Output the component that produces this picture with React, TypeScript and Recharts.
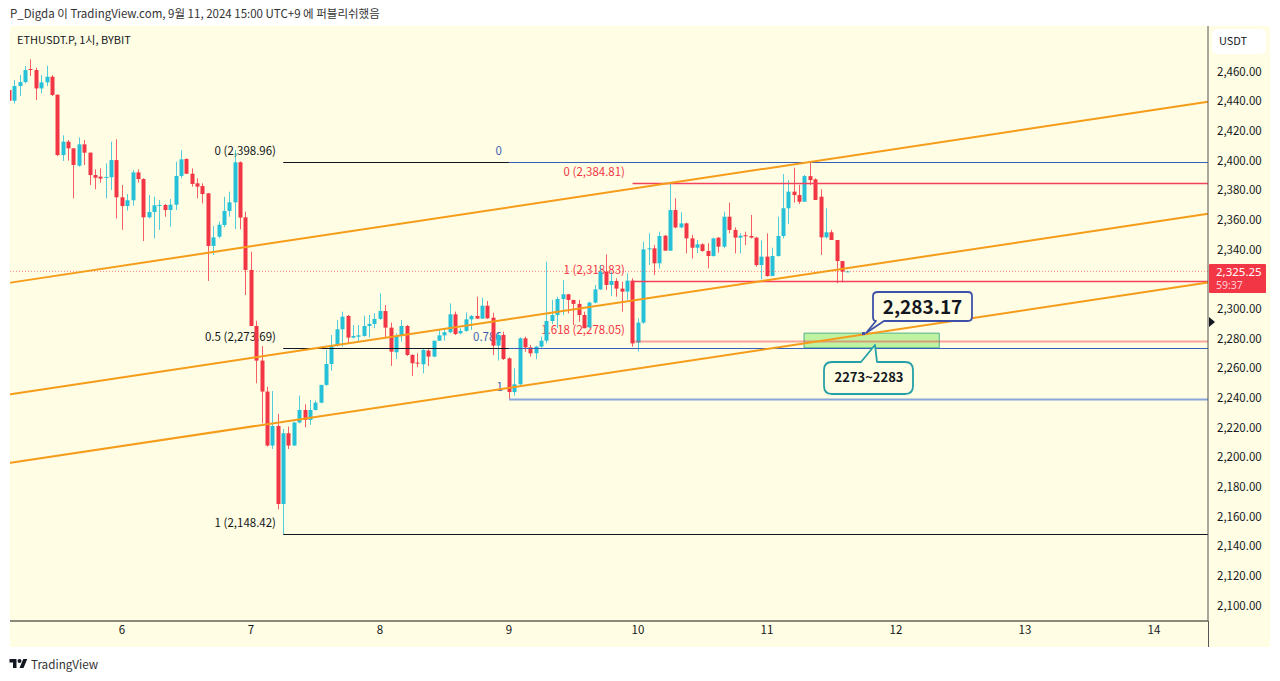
import { Bar, ComposedChart, ReferenceArea, ReferenceLine, XAxis, YAxis } from 'recharts';

// hourly candles, oldest first
const opens = [
  2447.5, 2440.3, 2450.2, 2452.9, 2461.7, 2461.0, 2448.6, 2452.7, 2456.5, 2444.4,
  2403.7, 2412.7, 2408.2, 2396.5, 2410.9, 2405.3, 2390.2, 2389.1, 2388.7, 2388.7,
  2400.3, 2375.2, 2369.3, 2373.2, 2392.0, 2387.5, 2361.7, 2365.3, 2369.8, 2370.0,
  2366.6, 2370.2, 2389.6, 2401.0, 2391.1, 2384.6, 2382.8, 2377.9, 2342.4, 2348.6,
  2356.5, 2366.0, 2371.8, 2398.8, 2361.7, 2326.2, 2288.4, 2265.1, 2244.2, 2207.8,
  2221.0, 2168.4, 2216.1, 2207.8, 2223.3, 2231.8, 2225.1, 2231.8, 2236.7, 2248.7,
  2262.8, 2275.6, 2286.2, 2295.2, 2280.6, 2281.2, 2281.7, 2288.4, 2289.8, 2293.2,
  2298.5, 2287.3, 2270.7, 2281.7, 2288.4, 2268.9, 2263.7, 2262.6, 2271.8, 2267.8,
  2278.5, 2282.1, 2284.2, 2296.3, 2283.5, 2285.1, 2292.9, 2295.2, 2293.4, 2302.1,
  2294.0, 2275.2, 2282.4, 2266.6, 2243.9, 2249.1, 2280.1, 2274.0, 2270.0, 2274.5,
  2278.5, 2291.8, 2295.8, 2306.6, 2309.8, 2306.0, 2303.3, 2295.8, 2287.5, 2304.2,
  2313.1, 2325.1, 2316.1, 2318.8, 2313.6, 2311.6, 2319.0, 2277.2, 2290.7, 2340.1,
  2340.8, 2330.7, 2349.3, 2339.2, 2366.6, 2354.9, 2357.6, 2347.5, 2341.2, 2343.5,
  2339.0, 2335.6, 2348.0, 2341.9, 2362.1, 2353.2, 2348.0, 2349.6, 2349.1, 2348.0,
  2329.5, 2335.2, 2322.1, 2335.6, 2349.1, 2367.8, 2379.0, 2376.7, 2372.2, 2389.5,
  2387.3, 2375.6, 2348.2, 2351.6, 2346.4, 2332.2, 2325.25,
];
const closes = [
  2440.3, 2450.2, 2452.9, 2461.0, 2461.2, 2448.6, 2452.7, 2456.5, 2444.2, 2403.7,
  2412.7, 2408.2, 2397.0, 2410.9, 2405.3, 2390.2, 2388.4, 2387.8, 2388.9, 2400.3,
  2375.2, 2369.3, 2373.2, 2392.0, 2387.5, 2361.7, 2365.3, 2369.8, 2370.0, 2366.6,
  2370.2, 2389.6, 2400.8, 2391.1, 2384.2, 2382.4, 2377.4, 2342.4, 2348.2, 2356.7,
  2366.0, 2371.8, 2398.8, 2361.5, 2326.2, 2288.4, 2265.1, 2244.2, 2207.8, 2221.0,
  2168.4, 2216.1, 2207.8, 2223.3, 2231.8, 2225.1, 2231.8, 2236.7, 2248.7, 2262.8,
  2275.6, 2286.2, 2294.7, 2280.6, 2281.7, 2282.1, 2288.4, 2289.8, 2293.2, 2298.5,
  2287.3, 2271.1, 2281.7, 2288.4, 2268.9, 2263.3, 2263.3, 2272.3, 2267.8, 2278.5,
  2282.1, 2284.2, 2296.3, 2283.0, 2285.1, 2292.9, 2295.2, 2293.4, 2302.1, 2293.6,
  2275.2, 2282.4, 2266.2, 2243.9, 2249.1, 2280.1, 2274.0, 2270.0, 2274.5, 2278.5,
  2291.8, 2295.8, 2306.6, 2309.8, 2306.0, 2303.3, 2295.8, 2286.9, 2304.2, 2313.1,
  2325.1, 2316.1, 2318.8, 2313.6, 2311.6, 2319.0, 2276.7, 2290.7, 2340.1, 2340.8,
  2330.7, 2349.1, 2339.2, 2366.6, 2354.9, 2357.6, 2347.5, 2341.2, 2343.5, 2339.0,
  2335.6, 2347.5, 2341.9, 2362.1, 2353.2, 2348.0, 2349.3, 2349.1, 2348.0, 2329.5,
  2335.2, 2322.1, 2335.6, 2349.1, 2367.8, 2379.0, 2376.7, 2372.2, 2389.5, 2386.8,
  2373.4, 2348.2, 2351.6, 2346.4, 2332.2, 2325.1, 2325.25,
];
const highs = [
  2454.3, 2454.3, 2457.6, 2463.7, 2468.2, 2462.6, 2457.6, 2463.9, 2457.6, 2444.4,
  2417.0, 2413.8, 2408.2, 2415.6, 2413.8, 2405.3, 2394.0, 2394.7, 2398.1, 2412.7,
  2414.3, 2383.5, 2377.4, 2393.6, 2394.0, 2388.0, 2376.7, 2375.6, 2373.4, 2370.7,
  2374.1, 2399.2, 2407.1, 2401.5, 2394.7, 2388.0, 2384.6, 2377.9, 2355.8, 2358.8,
  2375.6, 2379.0, 2407.1, 2399.4, 2365.5, 2338.5, 2292.0, 2274.9, 2247.5, 2244.6,
  2229.1, 2219.0, 2220.6, 2223.9, 2241.5, 2235.6, 2238.5, 2238.1, 2248.7, 2272.3,
  2282.4, 2292.5, 2298.1, 2295.8, 2289.1, 2289.1, 2295.4, 2295.8, 2297.0, 2310.4,
  2302.6, 2290.7, 2283.5, 2292.5, 2289.1, 2269.3, 2270.0, 2272.7, 2272.7, 2278.5,
  2286.2, 2285.7, 2303.7, 2298.1, 2286.9, 2297.6, 2295.8, 2308.2, 2307.5, 2305.3,
  2297.4, 2283.9, 2284.6, 2267.3, 2259.9, 2280.8, 2281.2, 2275.6, 2275.0, 2281.2,
  2331.8, 2306.0, 2308.2, 2319.4, 2310.0, 2306.0, 2306.0, 2298.1, 2304.8, 2316.1,
  2329.5, 2336.7, 2325.1, 2320.6, 2318.3, 2323.9, 2320.6, 2293.6, 2345.3, 2350.9,
  2343.0, 2352.0, 2349.8, 2384.6, 2374.5, 2365.1, 2358.1, 2349.8, 2346.4, 2344.2,
  2344.2, 2348.0, 2348.2, 2365.5, 2371.6, 2354.9, 2350.9, 2352.0, 2363.3, 2348.6,
  2346.0, 2350.9, 2341.2, 2362.1, 2390.9, 2386.8, 2395.2, 2383.5, 2390.2, 2399.2,
  2388.0, 2380.6, 2367.8, 2353.2, 2346.4, 2332.2, 2325.6,
];
const lows = [
  2438.1, 2438.5, 2443.5, 2452.0, 2457.0, 2440.8, 2445.3, 2450.2, 2443.5, 2403.0,
  2399.7, 2399.9, 2374.5, 2395.8, 2397.0, 2383.5, 2380.6, 2385.1, 2374.5, 2380.1,
  2361.0, 2353.2, 2366.2, 2369.6, 2385.1, 2345.7, 2361.0, 2347.5, 2353.2, 2362.1,
  2355.4, 2366.6, 2388.0, 2390.9, 2382.4, 2374.5, 2371.1, 2318.8, 2336.3, 2347.5,
  2355.0, 2362.1, 2353.8, 2353.6, 2309.3, 2288.4, 2249.8, 2222.8, 2207.1, 2205.5,
  2164.8, 2148.2, 2205.5, 2207.8, 2222.8, 2220.1, 2221.7, 2231.4, 2236.3, 2248.0,
  2258.3, 2274.5, 2274.5, 2276.8, 2280.1, 2277.9, 2281.2, 2280.8, 2286.9, 2292.5,
  2280.8, 2261.5, 2266.2, 2277.9, 2268.2, 2254.7, 2260.6, 2256.5, 2261.5, 2267.3,
  2278.3, 2278.5, 2283.5, 2282.3, 2282.8, 2284.6, 2285.7, 2293.2, 2293.2, 2293.2,
  2268.9, 2265.1, 2265.5, 2238.5, 2241.5, 2248.7, 2271.1, 2267.8, 2266.0, 2273.8,
  2276.7, 2289.8, 2286.9, 2295.8, 2297.0, 2289.1, 2291.3, 2286.9, 2286.9, 2303.7,
  2312.7, 2312.7, 2308.6, 2308.2, 2298.1, 2306.0, 2274.5, 2271.1, 2289.8, 2329.5,
  2322.8, 2327.3, 2339.2, 2339.2, 2354.3, 2354.3, 2337.4, 2334.0, 2337.4, 2338.5,
  2327.3, 2335.2, 2337.9, 2340.8, 2350.9, 2337.4, 2337.4, 2343.0, 2347.5, 2328.4,
  2319.9, 2321.7, 2322.1, 2335.2, 2347.5, 2357.2, 2371.6, 2370.7, 2372.2, 2383.5,
  2373.4, 2336.3, 2347.5, 2346.4, 2317.2, 2317.9, 2325.0,
];
const firstHour = -21; // hours relative to the 6th 00:00

const priceTicks = [
  2100, 2120, 2140, 2160, 2180, 2200, 2220, 2240, 2260, 2280, 2300, 2340, 2360, 2380, 2400, 2420, 2440, 2460,
];
const dayTicks = [0, 24, 48, 72, 96, 120, 144, 168, 192];
const dayLabels = ['6', '7', '8', '9', '10', '11', '12', '13', '14'];

const timeDomain = [-21.02, 202.05];
const priceDomain = [2089.5, 2490.7];

// parallel channel: [hour, price] start and end
const channelLines = [
  [-21.02, 2317.5, 202.05, 2439.6],
  [-21.02, 2242.2, 202.05, 2364.1],
  [-21.02, 2196.0, 202.05, 2317.7],
];

// fib levels: [hour from, hour to, price]
const blackLevels = [
  [30, 72, 2398.96],
  [30, 202.05, 2273.69],
  [30, 202.05, 2148.42],
];
const blueLevels = [
  [72, 202.05, 2398.96],
  [72, 202.05, 2273.69],
];
const paleBlueLevels = [[72, 202.05, 2238.9]];
const redLevels = [
  [95, 202.05, 2384.81],
  [95, 202.05, 2318.83],
];
const paleRedLevels = [[95, 202.05, 2278.05]];
const lastPrice = 2325.25;
const zone = { t1: 126.9, t2: 152.05, low: 2273.69, high: 2283.6 };

const candles = opens.map((open, i) => ({
  t: firstHour + i,
  open,
  close: closes[i],
  high: highs[i],
  low: lows[i],
}));

const UP = '#26c1d8';
const DOWN = '#f23645';
const FONT = '"Noto Sans CJK KR", "Noto Sans", sans-serif';
const PANE = '#fffde3';

const Candle = (props: any) => {
  const { x, y, width, height, payload } = props;
  const color = payload.close >= payload.open ? UP : DOWN;
  const perUnit = height / Math.max(payload.high - payload.low, 0.01);
  const top = y + (payload.high - Math.max(payload.open, payload.close)) * perUnit;
  const bodyH = Math.max(Math.abs(payload.open - payload.close) * perUnit, 1);
  const mid = Math.round(x + width / 2);
  return (
    <g>
      <line x1={mid + 0.5} x2={mid + 0.5} y1={y} y2={y + height} stroke={color} strokeOpacity={0.8} />
      <rect x={mid - 1.5} y={top} width={4} height={bodyH} fill={color} />
    </g>
  );
};

// horizontal levels land on a whole pixel row so they stay sharp
const SnappedLine = (props: any) => {
  const row = Math.round(props.y1) + 0.5;
  return (
    <line
      x1={props.x1}
      x2={props.x2}
      y1={row}
      y2={row}
      stroke={props.stroke}
      strokeWidth={props.strokeWidth}
      strokeOpacity={props.strokeOpacity}
    />
  );
};

const levelLines = (rows: number[][], stroke: string, strokeWidth: number, prefix: string, opacity = 1) =>
  rows.map(([from, to, price], i) => (
    <ReferenceLine
      key={prefix + i}
      segment={[
        { x: from, y: price },
        { x: to, y: price },
      ]}
      stroke={stroke}
      strokeWidth={strokeWidth}
      strokeOpacity={opacity}
      shape={SnappedLine}
      ifOverflow="visible"
    />
  ));

const fibText = (x: number, y: number, text: string, fill: string, anchor = 'end') => (
  <text x={x} y={y} fill={fill} fontSize={11.5} textAnchor={anchor as any} fontFamily={FONT}>
    {text}
  </text>
);

export default function App() {
  return (
    <div style={{ position: 'absolute', left: 0, top: 0, width: 1280, height: 681, background: '#fff', overflow: 'hidden', fontFamily: FONT }}>
      <div style={{ position: 'absolute', left: 10, top: 26, width: 1260, height: 621, background: PANE }} />

      {/* fib labels sit under the candles */}
      <svg width={1280} height={681} style={{ position: 'absolute', left: 0, top: 0 }}>
        {fibText(276, 155, '0 (2,398.96)', '#131722')}
        {fibText(276, 341, '0.5 (2,273.69)', '#131722')}
        {fibText(276, 527, '1 (2,148.42)', '#131722')}
        {fibText(625, 176, '0 (2,384.81)', '#f23645')}
        {fibText(625, 274, '1 (2,318.83)', '#f23645')}
        {fibText(625, 334, '1.618 (2,278.05)', '#f23645')}
        {fibText(502, 155, '0', '#3f5fb5')}
        {fibText(473, 341, '0.786', '#3f5fb5', 'start')}
        {fibText(503, 391, '1', '#3f5fb5')}
      </svg>

      <div style={{ position: 'absolute', left: 0, top: 0 }}>
        <ComposedChart width={1280} height={681} data={candles} margin={{ top: 26, right: 10, bottom: 34, left: 9 }}>
          <XAxis
            dataKey="t"
            type="number"
            domain={timeDomain}
            ticks={dayTicks}
            tickFormatter={(v: number) => dayLabels[dayTicks.indexOf(v)]}
            allowDataOverflow
            height={26}
            axisLine={{ stroke: '#8a8a7a', strokeWidth: 2 }}
            tickLine={false}
            tickMargin={5}
            tickSize={0}
            tick={{ fill: '#131722', fontSize: 11.5, fontFamily: FONT }}
          />
          <YAxis
            orientation="right"
            type="number"
            domain={priceDomain}
            ticks={priceTicks}
            tickFormatter={(v: number) => v.toLocaleString('en-US', { minimumFractionDigits: 2 })}
            allowDataOverflow
            width={62}
            tickLine={false}
            tickSize={0}
            tickMargin={9}
            stroke="#555"
            tick={{ fill: '#131722', fontSize: 11.5, fontFamily: FONT }}
          />
          <Bar dataKey={(d: any) => [d.low, d.high]} barSize={5} shape={Candle} isAnimationActive={false} />
          <ReferenceLine y={lastPrice} stroke="#f23645" strokeDasharray="1 2" strokeOpacity={0.6} />
          {levelLines(blackLevels, '#131722', 1, 'black')}
          {levelLines(blueLevels, '#3a5fb8', 1, 'blue')}
          {levelLines(paleBlueLevels, '#8aa6dc', 2, 'paleBlue')}
          {levelLines(redLevels, '#f4405a', 1.5, 'red')}
          {levelLines(paleRedLevels, '#f23645', 2, 'paleRed', 0.45)}
          {channelLines.map(([t1, p1, t2, p2], i) => (
            <ReferenceLine
              key={'channel' + i}
              segment={[
                { x: t1, y: p1 },
                { x: t2, y: p2 },
              ]}
              stroke="#f59c1a"
              strokeWidth={2}
              ifOverflow="visible"
            />
          ))}
          <ReferenceArea
            x1={zone.t1}
            x2={zone.t2}
            y1={zone.low}
            y2={zone.high}
            fill="#7fe85f"
            fillOpacity={0.5}
            stroke="#3fa98a"
            strokeOpacity={0.9}
            ifOverflow="visible"
          />
        </ComposedChart>
      </div>

      {/* white gutter clips the first candle like the pane edge does */}
      <div style={{ position: 'absolute', left: 0, top: 26, width: 10, height: 621, background: '#fff' }} />

      <svg width={1280} height={681} style={{ position: 'absolute', left: 0, top: 0 }} fontFamily={FONT}>
        <line x1={1208.5} x2={1208.5} y1={621} y2={647} stroke="#555" />
        <text x={10} y={18} fontSize={11.5} fill="#333">
          P_Digda 이 TradingView.com, 9월 11, 2024 15:00 UTC+9 에 퍼블리쉬했음
        </text>
        <text x={17} y={44} fontSize={11} fill="#131722">
          ETHUSDT.P, 1시, BYBIT
        </text>

        <rect x={1212} y={29} width={54} height={25} rx={5} fill="#fff" />
        <text x={1233} y={45} fontSize={11} textAnchor="middle" fill="#131722">
          USDT
        </text>

        <rect x={1209} y={264} width={57} height={29} rx={1} fill="#f23645" />
        <text x={1216} y={276} fontSize={11.5} fill="#fff" fontFamily='"Noto Sans", sans-serif'>
          2,325.25
        </text>
        <text x={1216} y={288.5} fontSize={10.5} fill="#ffd0d5" fontFamily='"Noto Sans", sans-serif'>
          59:37
        </text>
        <path d="M1209 317 L1215 322 L1209 327 Z" fill="#131722" />

        {/* price callout */}
        <path
          d="M878 292 H968 Q972 292 972 296 V317 Q972 321 968 321 H884 L866 333 L876 321 Q873 321 873 317 V296 Q873 292 878 292 Z"
          fill={PANE}
          stroke="#3f51a8"
          strokeWidth={1.8}
          strokeLinejoin="round"
        />
        <rect x={862} y={332} width={3} height={3} fill="#3f51a8" />
        <text x={922.5} y={314} fontSize={19} fontWeight={700} textAnchor="middle" fill="#131722">
          2,283.17
        </text>

        {/* zone callout */}
        <path
          d="M832 362 H861 L875 345 L877 362 H905 Q913 362 913 370 V386 Q913 394 905 394 H832 Q824 394 824 386 V370 Q824 362 832 362 Z"
          fill={PANE}
          stroke="#26a0a6"
          strokeWidth={1.8}
          strokeLinejoin="round"
        />
        <text x={869} y={382} fontSize={13} fontWeight={600} textAnchor="middle" fill="#131722">
          2273~2283
        </text>

        <g transform="translate(9.5 657) scale(0.5)" fill="#131722">
          <path d="M14 22H7V11H0V4h14v18zM28 22h-8l7.5-18h8L28 22z" />
          <circle cx={20} cy={8} r={4} />
        </g>
        <text x={31} y={669} fontSize={11.7} fill="#333">
          TradingView
        </text>
      </svg>
    </div>
  );
}
